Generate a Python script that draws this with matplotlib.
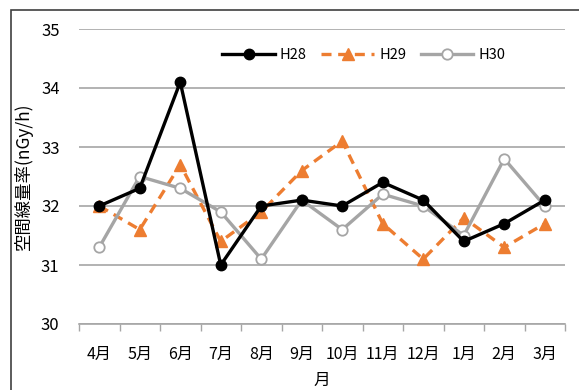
import numpy as np
import matplotlib
matplotlib.use("Agg")
import matplotlib.pyplot as plt
from matplotlib.patches import Rectangle

plt.rcParams['font.family'] = ['Noto Sans CJK JP', 'DejaVu Sans']

months = ['4月', '5月', '6月', '7月', '8月', '9月', '10月', '11月', '12月', '1月', '2月', '3月']
h28 = [32.0, 32.3, 34.1, 31.0, 32.0, 32.1, 32.0, 32.4, 32.1, 31.4, 31.7, 32.1]
h29 = [32.0, 31.6, 32.7, 31.4, 31.9, 32.6, 33.1, 31.7, 31.1, 31.8, 31.3, 31.7]
h30 = [31.3, 32.5, 32.3, 31.9, 31.1, 32.1, 31.6, 32.2, 32.0, 31.5, 32.8, 32.0]
yticks = [30, 31, 32, 33, 34, 35]

fig = plt.figure(figsize=(5.79, 3.90), dpi=100)
ax = fig.add_axes([79 / 579, 1 - 324 / 390, (565 - 79) / 579, (324 - 29) / 390])

# outer chart frame (right edge cut off in the original)
fig.patches.append(Rectangle((11 / 579, -0.05), 1.2, 1 - 10 / 390 + 0.05,
                             transform=fig.transFigure, fill=False,
                             edgecolor='#404040', linewidth=1.2))

x = np.arange(len(months))
ax.plot(x, h28, color='black', lw=2.4, marker='o', ms=7.5, label='H28', zorder=3)
ax.plot(x, h29, color='#ED7D31', lw=2.4, ls=(0, (3, 2)), marker='^', ms=8,
        label='H29', zorder=2)
ax.plot(x, h30, color='#A5A5A5', lw=2.4, marker='o', ms=7.5, mfc='white',
        mec='#A5A5A5', mew=1.3, label='H30', zorder=2)

ax.set_xlim(-0.5, len(months) - 0.5)
ax.set_ylim(30, 35)
ax.set_yticks(yticks)
ax.set_xticks(x)
ax.set_xticklabels(months)
ax.set_xticks(np.arange(-0.5, len(months)), minor=True)
ax.tick_params(axis='x', which='major', length=0, pad=16, labelsize=11.5)
ax.tick_params(axis='x', which='minor', length=5, color='#A6A6A6', width=1)
ax.tick_params(axis='y', length=0, pad=14, labelsize=12)
ax.grid(axis='y', color='#A6A6A6', lw=1.2)
ax.set_axisbelow(True)
for s in ['top', 'right', 'left']:
    ax.spines[s].set_visible(False)
ax.spines['bottom'].set_color('#A6A6A6')
ax.spines['bottom'].set_linewidth(1.2)

ax.set_xlabel('月', fontsize=12, labelpad=6)
ax.set_ylabel('空間線量率(nGy/h)', fontsize=12.5, labelpad=6)

ax.legend(loc='center', bbox_to_anchor=(0.586, 0.912), ncol=3, frameon=False,
          handlelength=3.6, columnspacing=1.0, handletextpad=0.35, fontsize=10.5)

fig.savefig('out.png', dpi=100)
